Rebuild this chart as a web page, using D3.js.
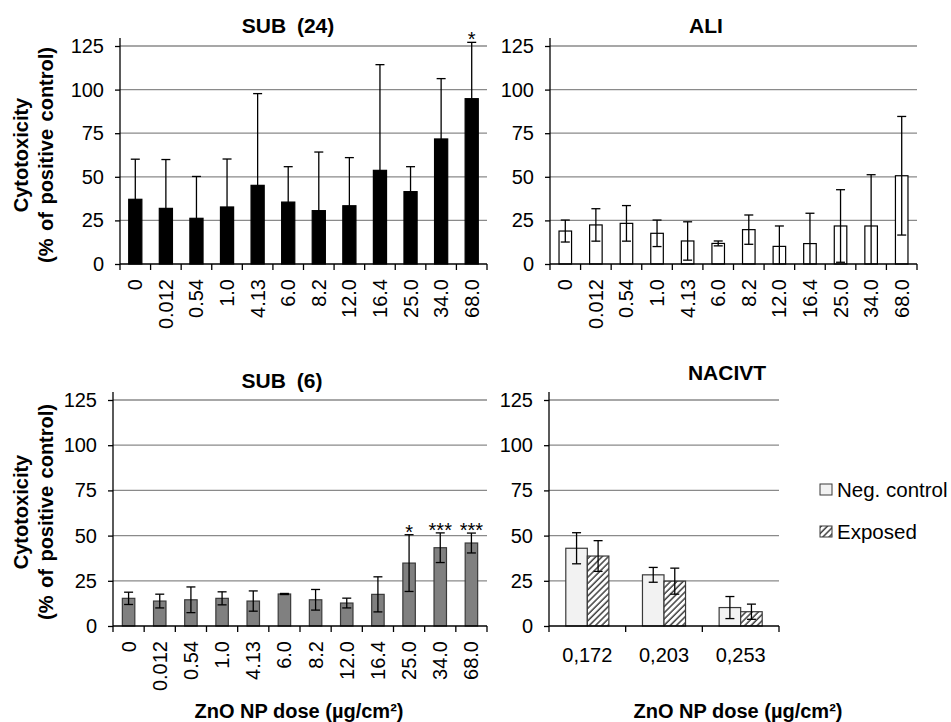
<!DOCTYPE html>
<html>
<head>
<meta charset="utf-8">
<script src="https://cdn.jsdelivr.net/npm/d3@7"></script>
<style>
  body { margin: 0; background: #fff; }
  text { font-family: "Liberation Sans", Arial, Helvetica, sans-serif; fill: #000; }
</style>
</head>
<body>
<svg id="chart" width="951" height="722"></svg>
<script>
// ZnO NP doses (µg/cm²) shared by the SUB and ALI exposures
const doses = ["0", "0.012", "0.54", "1.0", "4.13", "6.0", "8.2", "12.0", "16.4", "25.0", "34.0", "68.0"];
const yTicks = [0, 25, 50, 75, 100, 125];

// SUB (24): mean and SD, cytotoxicity as % of positive control
const sub24Mean = [37.1, 31.9, 26.2, 32.7, 45.1, 35.5, 30.6, 33.4, 53.7, 41.5, 71.7, 94.8];
const sub24Sd   = [23.0, 28.0, 24.0, 27.5, 52.6, 20.3, 33.6, 27.6, 60.6, 14.3, 34.6, 32.3];
const sub24Sig  = ["", "", "", "", "", "", "", "", "", "", "", "*"];

// ALI
const aliMean = [18.9, 22.4, 23.3, 17.6, 13.2, 11.8, 19.7, 10.1, 11.7, 21.8, 21.8, 50.6];
const aliSd   = [6.3, 9.3, 10.2, 7.6, 11.0, 1.4, 8.4, 11.7, 17.4, 20.8, 29.4, 34.0];
const aliSig  = ["", "", "", "", "", "", "", "", "", "", "", ""];

// SUB (6)
const sub6Mean = [15.3, 13.8, 14.5, 15.3, 13.8, 17.7, 14.5, 12.7, 17.5, 34.8, 43.3, 45.9];
const sub6Sd   = [3.4, 3.8, 7.1, 3.6, 5.6, 0.3, 5.7, 2.7, 9.7, 15.7, 8.2, 5.5];
const sub6Sig  = ["", "", "", "", "", "", "", "", "", "*", "***", "***"];

// NACIVT: negative control vs exposed
const naDoses   = ["0,172", "0,203", "0,253"];
const naSeries  = ["Neg. control", "Exposed"];
const naNegMean = [43.0, 28.3, 10.2];
const naNegSd   = [8.6, 4.1, 6.1];
const naExpMean = [38.7, 24.8, 7.9];
const naExpSd   = [8.5, 7.2, 4.2];

const svg = d3.select("#chart");
const GRID = "#8a8a8a";
const DARK = "#3a3a3a";

// diagonal hatch for the exposed series
const defs = svg.append("defs");
defs.append("pattern")
  .attr("id", "hatch")
  .attr("patternUnits", "userSpaceOnUse")
  .attr("width", 4.4).attr("height", 4.4)
  .attr("patternTransform", "rotate(45)")
  .call(p => {
    p.append("rect").attr("width", 4.4).attr("height", 4.4).attr("fill", "#fff");
    p.append("line").attr("x1", 1).attr("y1", 0).attr("x2", 1).attr("y2", 4.4)
      .attr("stroke", "#404040").attr("stroke-width", 1.5);
  });

function yAxisFrame(g, y, x0, x1) {
  // horizontal gridlines
  g.append("g").selectAll("line").data(yTicks.filter(d => d > 0)).join("line")
    .attr("x1", x0).attr("x2", x1)
    .attr("y1", d => y(d)).attr("y2", d => y(d))
    .attr("stroke", GRID).attr("stroke-width", 1.3);
  // y axis with outward ticks
  const ax = g.append("g").attr("transform", `translate(${x0},0)`)
    .call(d3.axisLeft(y).tickValues(yTicks).tickSize(5).tickPadding(11));
  ax.select(".domain").remove();
  ax.selectAll(".tick line").attr("stroke", "#000").attr("stroke-width", 1.3);
  ax.selectAll(".tick text").attr("font-size", 20).attr("font-family", null).attr("fill", "#000");
  g.append("line")
    .attr("x1", x0).attr("x2", x0)
    .attr("y1", y(0)).attr("y2", y(125) - 8)
    .attr("stroke", "#000").attr("stroke-width", 1.3);
}

function xAxisFrame(g, x, y, cats, tickLen) {
  const edges = cats.map(c => x(c)).concat([x.range()[1]]);
  g.append("line")
    .attr("x1", x.range()[0]).attr("x2", x.range()[1])
    .attr("y1", y(0)).attr("y2", y(0))
    .attr("stroke", "#000").attr("stroke-width", 1.3);
  g.append("g").selectAll("line").data(edges).join("line")
    .attr("x1", d => d).attr("x2", d => d)
    .attr("y1", y(0)).attr("y2", y(0) + tickLen)
    .attr("stroke", "#000").attr("stroke-width", 1.3);
}

function errorBars(g, items, y) {
  // items: {cx, m, s}
  const cap = 4.5;
  const eb = g.append("g").attr("stroke", "#000").attr("stroke-width", 1.3);
  items.forEach(d => {
    const lo = Math.max(0, d.m - d.s), hi = d.m + d.s;
    eb.append("line").attr("x1", d.cx).attr("x2", d.cx).attr("y1", y(lo)).attr("y2", y(hi));
    eb.append("line").attr("x1", d.cx - cap).attr("x2", d.cx + cap).attr("y1", y(hi)).attr("y2", y(hi));
    if (d.m - d.s > 0) {
      eb.append("line").attr("x1", d.cx - cap).attr("x2", d.cx + cap).attr("y1", y(lo)).attr("y2", y(lo));
    }
  });
}

function panelTitle(x, y, label) {
  svg.append("text")
    .attr("x", x).attr("y", y)
    .attr("text-anchor", "middle")
    .attr("font-size", 21).attr("font-weight", "bold")
    .attr("word-spacing", 5)
    .text(label);
}

function dosePanel(o) {
  const g = svg.append("g");
  const y = d3.scaleLinear().domain([0, 125]).range([o.yZero, o.y125]);
  const x = d3.scaleBand().domain(doses).range([o.x0, o.x1]).padding(0);
  const bw = x.bandwidth() * o.barFrac;

  yAxisFrame(g, y, o.x0, o.x1);

  const rows = doses.map((c, i) => ({ c, m: o.mean[i], s: o.sd[i], sig: o.sig[i], cx: x(c) + x.bandwidth() / 2 }));

  g.append("g").selectAll("rect").data(rows).join("rect")
    .attr("x", d => d.cx - bw / 2)
    .attr("y", d => y(d.m))
    .attr("width", bw)
    .attr("height", d => y(0) - y(d.m))
    .attr("fill", o.fill)
    .attr("stroke", o.stroke)
    .attr("stroke-width", 1.2);

  errorBars(g, rows, y);
  xAxisFrame(g, x, y, doses, 6);

  // rotated dose labels
  g.append("g").selectAll("text").data(rows).join("text")
    .attr("transform", d => `translate(${d.cx},${o.labelTop}) rotate(-90)`)
    .attr("text-anchor", "end")
    .attr("dy", "0.35em")
    .attr("font-size", 20)
    .text(d => d.c);

  // significance marks above the error bars
  g.append("g").selectAll("text").data(rows.filter(d => d.sig)).join("text")
    .attr("x", d => d.cx)
    .attr("y", d => y(d.m + d.s) + 8)
    .attr("dy", "-0.2em")
    .attr("text-anchor", "middle")
    .attr("font-size", 20)
    .text(d => d.sig);

  panelTitle(o.titleX, o.titleY, o.title);
}

function yTitle(cy) {
  const g = svg.append("g").attr("font-size", 20).attr("font-weight", "bold");
  g.append("text").attr("transform", `translate(28,${cy}) rotate(-90)`)
    .attr("text-anchor", "middle").attr("font-weight", "bold").text("Cytotoxicity");
  g.append("text").attr("transform", `translate(53,${cy}) rotate(-90)`)
    .attr("text-anchor", "middle").attr("font-weight", "bold").attr("word-spacing", 2)
    .text("(% of positive control)");
}

function xTitle(cx) {
  svg.append("text")
    .attr("x", cx).attr("y", 718)
    .attr("text-anchor", "middle")
    .attr("font-size", 20).attr("font-weight", "bold")
    .text("ZnO NP dose (µg/cm²)");
}

dosePanel({ title: "SUB (24)", titleX: 288, titleY: 33, x0: 120, x1: 487, yZero: 264, y125: 46,
  mean: sub24Mean, sd: sub24Sd, sig: sub24Sig, barFrac: 0.43, fill: "#000", stroke: "#000", labelTop: 279 });
dosePanel({ title: "ALI", titleX: 706, titleY: 33, x0: 550, x1: 917, yZero: 264, y125: 46,
  mean: aliMean, sd: aliSd, sig: aliSig, barFrac: 0.41, fill: "#fff", stroke: "#000", labelTop: 279 });
dosePanel({ title: "SUB (6)", titleX: 282, titleY: 388, x0: 113, x1: 487, yZero: 626, y125: 400,
  mean: sub6Mean, sd: sub6Sd, sig: sub6Sig, barFrac: 0.40, fill: "#808080", stroke: DARK, labelTop: 641 });

// NACIVT grouped bars
(function () {
  const x0 = 549, x1 = 779, yZero = 626, y125 = 400;
  const g = svg.append("g");
  const y = d3.scaleLinear().domain([0, 125]).range([yZero, y125]);
  const x = d3.scaleBand().domain(naDoses).range([x0, x1]).padding(0);
  const xs = d3.scaleBand().domain(naSeries).range([0, x.bandwidth()]).paddingOuter(0.78).paddingInner(0);

  yAxisFrame(g, y, x0, x1);

  const means = [naNegMean, naExpMean], sds = [naNegSd, naExpSd];
  const fills = ["#f2f2f2", "url(#hatch)"];
  const rows = [];
  naDoses.forEach((c, i) => naSeries.forEach((s, k) => {
    rows.push({ c, s, k, m: means[k][i], sd: sds[k][i], x: x(c) + xs(s), cx: x(c) + xs(s) + xs.bandwidth() / 2 });
  }));

  g.append("g").selectAll("rect").data(rows).join("rect")
    .attr("x", d => d.x).attr("y", d => y(d.m))
    .attr("width", xs.bandwidth()).attr("height", d => y(0) - y(d.m))
    .attr("fill", d => fills[d.k])
    .attr("stroke", DARK).attr("stroke-width", 1.2);

  errorBars(g, rows.map(d => ({ cx: d.cx, m: d.m, s: d.sd })), y);
  xAxisFrame(g, x, y, naDoses, 6);

  g.append("g").selectAll("text").data(naDoses).join("text")
    .attr("x", d => x(d) + x.bandwidth() / 2).attr("y", 662)
    .attr("text-anchor", "middle").attr("font-size", 20)
    .text(d => d);

  panelTitle(727, 380, "NACIVT");

  // legend
  const lg = svg.append("g").attr("transform", "translate(820,484)");
  naSeries.forEach((s, k) => {
    const row = lg.append("g").attr("transform", `translate(0,${k * 42})`);
    row.append("rect").attr("width", 12).attr("height", 11)
      .attr("fill", fills[k]).attr("stroke", DARK).attr("stroke-width", 1);
    row.append("text").attr("x", 17).attr("y", 13).attr("font-size", 20.5).text(s);
  });
})();

yTitle(155);
yTitle(512);
xTitle(299);
xTitle(738);
</script>
</body>
</html>
